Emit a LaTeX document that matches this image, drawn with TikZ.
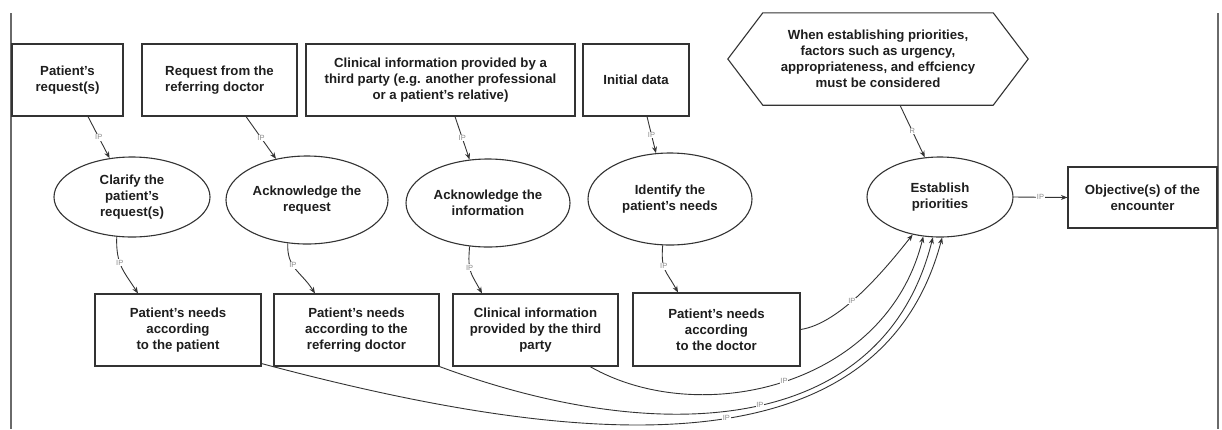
\documentclass[tikz,border=0pt]{standalone}
\usepackage{fontspec}
\setmainfont{Liberation Sans}
\usetikzlibrary{arrows.meta,shapes.geometric}
\definecolor{ln}{HTML}{333333}
\definecolor{txt}{HTML}{1E1E1E}
\definecolor{lbl}{HTML}{8C8C8C}
\definecolor{frame}{HTML}{6A6A6A}
\begin{document}
\begin{tikzpicture}[x=1pt,y=-1pt,
  box/.style={draw=ln, line width=1.1pt, rectangle, inner sep=0pt, align=center,
    text=txt, font=\bfseries\fontsize{13.2}{16}\selectfont},
  oval/.style={draw=ln, line width=1.1pt, ellipse, inner sep=0pt, align=center,
    text=txt, font=\bfseries\fontsize{13.2}{16}\selectfont},
  hexnode/.style={inner sep=0pt, align=center, text=txt,
    font=\bfseries\fontsize{13.2}{16}\selectfont},
  lab/.style={font=\fontsize{7.5}{8}\selectfont, text=lbl, fill=white, inner sep=0.6pt},
  arr/.style={draw=ln, line width=0.9pt, -{Stealth[length=6.5pt,width=5pt]}}
]
\useasboundingbox (0,0) rectangle (1222,429);
\fill[white] (0,0) rectangle (1222,429);
% frame lines
\draw[frame, line width=2pt] (10.5,13) -- (10.5,429);
\draw[frame, line width=2pt] (1217.5,13) -- (1217.5,429);

% top boxes
\node[box, minimum width=111pt, minimum height=72pt] (t1) at (67.5,80) {Patient's\\request(s)};
\node[box, minimum width=155pt, minimum height=72pt, align=left] (t2) at (219.5,80) {Request from the\\referring doctor};
\node[box, minimum width=269pt, minimum height=72pt] (t3) at (440.5,80) {Clinical information provided by a\\third party (e.g. another professional\\or a patient's relative)};
\node[box, minimum width=106pt, minimum height=72pt] (t4) at (636,80) {Initial data};

% hexagon
\node[hexnode, minimum width=300pt, minimum height=92pt] (hx) at (878,59) {When establishing priorities,\\factors such as urgency,\\appropriateness, and effciency\\must be considered};
\draw[ln, line width=1.1pt] (hx.west) -- ([xshift=35pt]hx.north west) -- ([xshift=-35pt]hx.north east) -- (hx.east) -- ([xshift=-35pt]hx.south east) -- ([xshift=35pt]hx.south west) -- cycle;

% ellipses
\node[oval, minimum width=156pt, minimum height=80pt] (e1) at (132,197) {Clarify the\\patient's\\request(s)};
\node[oval, minimum width=162pt, minimum height=88pt] (e2) at (307,200) {Acknowledge the\\request};
\node[oval, minimum width=164pt, minimum height=88pt] (e3) at (488,203) {Acknowledge the\\information};
\node[oval, minimum width=164pt, minimum height=92pt] (e4) at (670,199) {Identify the\\patient's needs};
\node[oval, minimum width=146pt, minimum height=80pt] (e5) at (940,197) {Establish\\priorities};

% objective
\node[box, minimum width=149pt, minimum height=61pt] (ob) at (1142.5,197.5) {Objective(s) of the\\encounter};

% bottom boxes
\node[box, minimum width=166pt, minimum height=72pt] (b1) at (178,330) {Patient's needs\\according\\to the patient};
\node[box, minimum width=165pt, minimum height=72pt] (b2) at (356.5,330) {Patient's needs\\according to the\\referring doctor};
\node[box, minimum width=165pt, minimum height=72pt] (b3) at (535.5,330) {Clinical information\\provided by the third\\party};
\node[box, minimum width=167pt, minimum height=73pt] (b4) at (716.5,329.5) {Patient's needs\\according\\to the doctor};

% straight connectors
\draw[arr] ([xshift=20.5pt]t1.south) -- node[lab]{IP} (e1.120);
\draw[arr] ([xshift=26.5pt]t2.south) -- node[lab]{IP} (e2.127);
\draw[arr] ([xshift=14.5pt]t3.south) -- node[lab]{IP} (e3.113);
\draw[arr] ([xshift=11pt]t4.south) -- node[lab]{IP} (e4.107);
\draw[arr] ([xshift=22pt]hx.south) -- node[lab]{R} (e5.111);
\draw[arr] (e5.east) -- node[lab]{IP} (ob.west);

% ellipse to box curves
\draw[arr] (e1.-111) .. controls +(-1,28) and +(-14,-22) .. node[lab,pos=0.4]{IP} ([xshift=-40pt]b1.north);
\draw[arr] (e2.-114) .. controls +(-1,25) and +(-14,-22) .. node[lab,pos=0.4]{IP} ([xshift=-41.5pt]b2.north);
\draw[arr] (e3.-113) .. controls +(-2,25) and +(-12,-22) .. node[lab,pos=0.4]{IP} ([xshift=-53.5pt]b3.north);
\draw[arr] (e4.-99) .. controls +(-2,25) and +(-12,-22) .. node[lab,pos=0.4]{IP} ([xshift=-38.5pt]b4.north);

% curves to Establish priorities
\draw[arr] (b4.east) .. controls +(40,-6) and +(-27,34) .. node[lab,pos=0.42]{IP} (e5.-126);
\draw[arr] ([xshift=54.5pt]b3.south) .. controls +(110,63) and +(-37,150) .. node[lab,pos=0.5]{IP} (e5.-113);
\draw[arr] (b2.south east) .. controls +(218,81) and +(-50,200) .. node[lab,pos=0.52]{IP} (e5.-100);
\draw[arr] ([yshift=3pt]b1.south east) .. controls +(300,80) and +(-65,245) .. node[lab,pos=0.55]{IP} (e5.-87);
\end{tikzpicture}
\end{document}
